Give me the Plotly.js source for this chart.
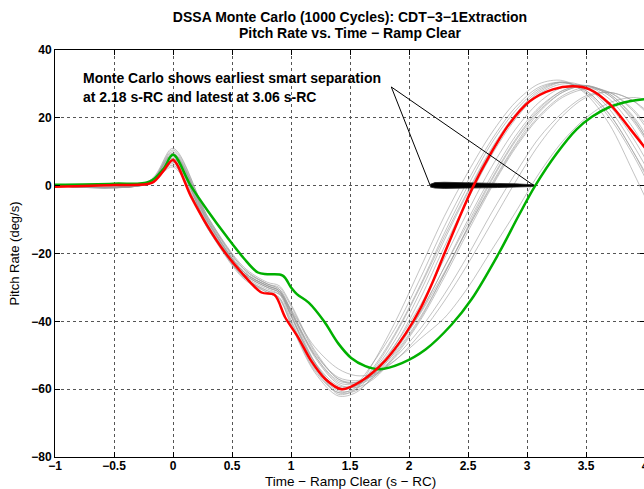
<!DOCTYPE html>
<html>
<head>
<meta charset="utf-8">
<script src="https://cdn.plot.ly/plotly-3.0.1.min.js"></script>
<style>
html,body{margin:0;padding:0;overflow:hidden;background:#fff;}
#chart{width:650px;height:489px;}
</style>
</head>
<body>
<div id="chart"></div>
<script>
// ---- data ----
const titleLine1 = 'DSSA Monte Carlo (1000 Cycles): CDT\u22123\u22121Extraction';
const titleLine2 = 'Pitch Rate vs. Time \u2212 Ramp Clear';
const xTitle = 'Time \u2212 Ramp Clear (s \u2212 RC)';
const yTitle = 'Pitch Rate (deg/s)';
const xTickVals = [-1, -0.5, 0, 0.5, 1, 1.5, 2, 2.5, 3, 3.5, 4];
const xTickLabels = ['\u22121', '\u22120.5', '0', '0.5', '1', '1.5', '2', '2.5', '3', '3.5', '4'];
const yTickVals = [-80, -60, -40, -20, 0, 20, 40];
const yTickLabels = ['\u221280', '\u221260', '\u221240', '\u221220', '0', '20', '40'];

const redX = [-1, -0.5, -0.18, -0.08, 0, 0.15, 0.29, 0.43, 0.58, 0.75, 0.86, 0.95, 1.06, 1.17, 1.29, 1.43, 1.6, 1.8, 1.97, 2.1, 2.2, 2.3, 2.42, 2.54, 2.69, 2.85, 3.02, 3.22, 3.39, 3.53, 3.7, 3.87, 4.02];
const redY = [-0.3, 0.2, 0.8, 4.4, 7.6, -3, -11.8, -19.2, -25.6, -31.5, -32.2, -38.8, -44.7, -51.6, -57, -60, -57.5, -51.5, -43.7, -36, -28.5, -20, -10, -0.5, 9.3, 18.2, 24.8, 28.4, 29.3, 28.4, 24.1, 16.9, 10.3];

const greenX = [-1, -0.5, -0.2, -0.08, 0, 0.15, 0.3, 0.45, 0.6, 0.72, 0.8, 0.93, 1.0, 1.05, 1.15, 1.28, 1.4, 1.51, 1.63, 1.75, 1.94, 2.14, 2.36, 2.53, 2.76, 2.93, 3.07, 3.25, 3.42, 3.55, 3.7, 3.87, 4.05];
const greenY = [0.3, 0.6, 1.2, 5, 9.1, 0, -7.7, -14.8, -21.4, -25.6, -26.1, -26.5, -30, -32, -34.5, -40, -46.5, -50.8, -53.2, -54.1, -52.3, -48.3, -41, -33.5, -20, -8.8, 0, 9.4, 16.6, 20.3, 23.2, 24.9, 25.7];

const grayX = [-1, -0.2, 0, 0.3, 0.6, 0.8, 0.9, 1.0, 1.2, 1.4, 1.55, 1.7, 1.9, 2.1, 2.3, 2.5, 2.7, 2.9, 3.1, 3.3, 3.5, 3.7, 3.9, 4.05];
const grayRuns = [
  [0, 1.2, 10, -10, -24.5, -29, -30.5, -37, -52, -61.5, -60, -52, -39, -24, -9, 4, 15.5, 24.5, 30, 31, 27, 18, 4, -7],
  [0, 1.0, 9, -11, -26, -30, -31.5, -38.5, -53, -60, -58.5, -52, -41, -27, -12, 1.5, 13.5, 23, 29, 30.5, 28, 21, 10, 1],
  [0, 0.8, 8, -12.5, -27, -31, -33, -41, -55, -62, -61, -56, -46, -33, -18, -4, 9, 19.5, 27, 30, 29, 23.5, 14, 5],
  [0, 0.6, 6.5, -12, -26, -30, -31.5, -37.5, -50, -57.5, -58, -55, -47, -37, -24, -10, 3, 14.5, 23, 28, 29.5, 26.5, 19.5, 12],
  [0, 1.5, 11, -9.5, -24, -28.5, -29.5, -35, -48.5, -57, -58.5, -56.5, -49, -39, -26, -12.5, 0, 11.5, 20.5, 26.5, 29, 27.5, 22, 15],
  [0, 0.5, 5.5, -13, -27, -31, -32, -36.5, -47.5, -54, -56, -55.5, -51, -45, -39, -30, -19, -8, 3.5, 13, 20, 24.5, 26, 25],
  [0, 0.9, 9.5, -10.5, -25.5, -29.5, -31, -38, -52.5, -59.5, -59, -54.5, -44.5, -31, -16, -2, 10.5, 20.5, 27.5, 30.5, 29, 22.5, 12, 3],
  [0, 0.7, 7, -12, -26.5, -30.5, -32, -39.5, -53.5, -60.5, -60, -55, -46, -35, -21.5, -7.5, 5.5, 16.5, 24.5, 29, 29.5, 25.5, 17, 8],
  [0, 0.8, 8.5, -11, -25.5, -29.5, -31, -37, -50.5, -58.5, -59.5, -57, -49.5, -39.5, -27, -13.5, -0.5, 11, 20, 26, 28.5, 27.5, 22.5, 16],
  [0, 1.1, 10.5, -9.5, -24.5, -29, -30, -35.5, -49, -57, -58, -56, -50, -42, -32, -20.5, -8, 3.5, 14, 21.5, 26.5, 27.5, 25, 20],
  [0, 0.7, 7.5, -12.5, -27, -31.5, -33.5, -40.5, -54.5, -61, -59.5, -53.5, -42.5, -29, -14, 0, 12.5, 22, 28.5, 30.5, 27.5, 20, 9, -1],
  [0, 0.9, 8, -11.5, -26, -30, -31.5, -38.5, -52, -59, -59, -55.5, -47.5, -37, -24, -11, 2, 13.5, 22.5, 28, 29.5, 26.5, 19, 11],
  [0, 0.6, 6, -13, -27.5, -31.5, -33, -40, -54, -61, -60.5, -56.5, -48, -37.5, -25.5, -12.5, 0.5, 12, 21.5, 27.5, 29.5, 27, 20.5, 12.5],
  [0, 1.2, 9, -10, -25, -29, -30.5, -36.5, -50, -58, -58.5, -55.5, -48.5, -38.5, -26, -12, 1.5, 13, 22, 27.5, 29.5, 27, 20, 11],
  [0, 0.8, 7, -11, -25.5, -29.5, -31, -37, -49.5, -56.5, -57.5, -56, -51, -43.5, -34, -23, -11, 1, 12, 20.5, 26, 27.5, 25, 21],
  [0, 1.0, 9.5, -10.5, -25.5, -29.5, -31, -38, -52, -60, -59, -54, -43, -29.5, -15, -1.5, 11, 21, 28, 30.5, 28, 21, 10, 0]
];

// separation points band (earliest 2.18, latest 3.06 s-RC)
const sepMin = 2.18;
const sepMax = 3.06;
const sepBandX = [2.18, 2.22, 2.3, 2.45, 2.6, 2.75, 2.9, 3.0, 3.06];
const sepBandUpper = [0.4, 0.9, 1.0, 0.95, 0.8, 0.65, 0.55, 0.45, 0.25];
const sepBandLower = [-0.4, -0.7, -0.8, -0.8, -0.65, -0.55, -0.45, -0.35, -0.25];
const calloutApex = [1.85, 29.1];
const calloutLines = ['Monte Carlo shows earliest smart separation', 'at 2.18 s-RC and latest at 3.06 s-RC'];

// ---- traces ----
const traces = [];
grayRuns.forEach(function (ys) {
  traces.push({
    x: grayX, y: ys, type: 'scatter', mode: 'lines',
    line: {color: 'rgba(155,155,155,0.6)', width: 1, shape: 'spline', smoothing: 0.9},
    hoverinfo: 'skip', showlegend: false
  });
});
traces.push({
  x: sepBandX.concat(sepBandX.slice().reverse()),
  y: sepBandUpper.concat(sepBandLower.slice().reverse()),
  type: 'scatter', mode: 'lines', fill: 'toself', fillcolor: '#000',
  line: {color: '#222', width: 0.8}, showlegend: false, hoverinfo: 'skip'
});
traces.push({
  x: greenX, y: greenY, type: 'scatter', mode: 'lines',
  line: {color: '#00b000', width: 2.5, shape: 'spline', smoothing: 1}, showlegend: false
});
traces.push({
  x: redX, y: redY, type: 'scatter', mode: 'lines',
  line: {color: '#ff0000', width: 2.5, shape: 'spline', smoothing: 0.9}, showlegend: false
});

const FONT = 'Arial, Liberation Sans, sans-serif';
const axisCommon = {
  showline: true, linecolor: '#000', linewidth: 1, mirror: 'ticks',
  ticks: 'inside', ticklen: 5, tickcolor: '#000', tickwidth: 1,
  showgrid: true, gridcolor: '#555', griddash: 'dot', gridwidth: 1,
  zeroline: false,
  tickfont: {family: FONT, size: 12, color: '#000', weight: 'bold'}
};

const layout = {
  width: 650, height: 489,
  margin: {l: 55, r: 5, t: 50, b: 32},
  paper_bgcolor: '#fff', plot_bgcolor: '#fff',
  showlegend: false,
  title: {
    text: titleLine1,
    font: {family: FONT, size: 14, color: '#000', weight: 'bold'},
    x: 0.5, xref: 'paper', xanchor: 'center',
    y: 1 - 17 / 489, yref: 'container', yanchor: 'middle'
  },
  xaxis: Object.assign({}, axisCommon, {
    range: [-1, 4], tickvals: xTickVals, ticktext: xTickLabels,
    ticklabelstandoff: -2
  }),
  yaxis: Object.assign({}, axisCommon, {
    range: [-80, 40], tickvals: yTickVals, ticktext: yTickLabels,
    title: {text: yTitle, standoff: 8,
      font: {family: FONT, size: 13, color: '#000'}}
  }),
  shapes: [
    {type: 'line', xref: 'x', yref: 'y', x0: calloutApex[0], y0: calloutApex[1], x1: sepMin, y1: 0,
      line: {color: '#000', width: 1}},
    {type: 'line', xref: 'x', yref: 'y', x0: calloutApex[0], y0: calloutApex[1], x1: sepMax, y1: 0,
      line: {color: '#000', width: 1}}
  ],
  annotations: [
    {text: titleLine2, x: 0.5, y: 1 + 17 / 407, xref: 'paper', yref: 'paper',
      xanchor: 'center', yanchor: 'middle', showarrow: false,
      font: {family: FONT, size: 14, color: '#000', weight: 'bold'}},
    {text: xTitle, x: 0.5, y: -24.5 / 407, xref: 'paper', yref: 'paper',
      xanchor: 'center', yanchor: 'middle', showarrow: false,
      font: {family: FONT, size: 13.5, color: '#000'}},
    {text: calloutLines[0], x: -0.78, y: 31.8, xref: 'x', yref: 'y',
      xanchor: 'left', yanchor: 'middle', showarrow: false,
      font: {family: FONT, size: 14, color: '#000', weight: 'bold'}},
    {text: calloutLines[1], x: -0.78, y: 26.2, xref: 'x', yref: 'y',
      xanchor: 'left', yanchor: 'middle', showarrow: false,
      font: {family: FONT, size: 14, color: '#000', weight: 'bold'}}
  ]
};

Plotly.newPlot('chart', traces, layout, {displayModeBar: false, staticPlot: true});
</script>
</body>
</html>
